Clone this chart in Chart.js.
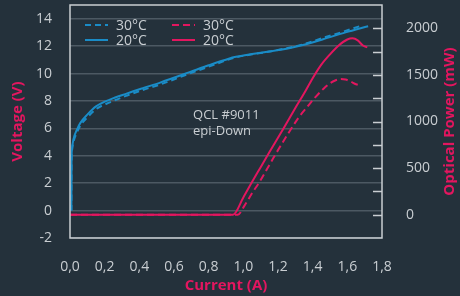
<!DOCTYPE html>
<html>
<head>
<meta charset="utf-8">
<script src="https://cdn.jsdelivr.net/npm/chart.js@4.4.0/dist/chart.umd.min.js"></script>
<style>
  html, body { margin: 0; padding: 0; background: #24313b; }
</style>
</head>
<body>
<canvas id="myChart" width="460" height="296"></canvas>
<script>
// voltage (V) vs current (A)
const currentV20 = [0.008, 0.009, 0.011, 0.02, 0.04, 0.06, 0.1, 0.15, 0.23, 0.33, 0.42, 0.52, 0.69, 0.8, 0.92, 0.95, 1.05, 1.15, 1.27, 1.35, 1.46, 1.59, 1.72];
const voltage20 = [0, 3.5, 4.4, 5.2, 5.9, 6.4, 7.0, 7.6, 8.1, 8.55, 8.93, 9.34, 10.1, 10.6, 11.1, 11.2, 11.42, 11.6, 11.86, 12.1, 12.5, 13.0, 13.45];
const currentV30 = [0.008, 0.009, 0.011, 0.02, 0.04, 0.06, 0.1, 0.15, 0.23, 0.33, 0.42, 0.52, 0.69, 0.8, 0.95, 1.05, 1.15, 1.27, 1.35, 1.46, 1.55, 1.67];
const voltage30 = [0, 3.5, 4.3, 5.0, 5.7, 6.2, 6.8, 7.4, 7.9, 8.4, 8.8, 9.2, 10.0, 10.5, 11.15, 11.4, 11.6, 11.9, 12.15, 12.6, 12.95, 13.45];

// optical power (mW) vs current (A)
const currentP20 = [0, 0.94, 1.0, 1.05, 1.1, 1.15, 1.2, 1.25, 1.3, 1.35, 1.4, 1.45, 1.5, 1.55, 1.6, 1.63, 1.66, 1.69, 1.715];
const power20 = [0, 0, 185, 350, 510, 670, 825, 985, 1145, 1300, 1465, 1610, 1720, 1815, 1880, 1892, 1870, 1815, 1795];
const currentP30 = [0, 0.968, 1.006, 1.05, 1.093, 1.14, 1.18, 1.25, 1.32, 1.37, 1.42, 1.47, 1.5, 1.53, 1.56, 1.59, 1.62, 1.65, 1.68];
const power30 = [0, 0, 95, 230, 350, 500, 630, 845, 1045, 1160, 1270, 1365, 1410, 1440, 1455, 1450, 1428, 1400, 1385];

const seriesLabels = ["30°C", "20°C", "30°C", "20°C"];
const noteLines = ["QCL #9011", "epi-Down"];

const blue = "#1a8cc7";
const pink = "#e3165f";
const textColor = "#c9ced2";
const frameColor = "#c9ced2";
const fontFamily = "'Open Sans', sans-serif";

function pts(xs, ys) {
  return xs.map((x, i) => ({ x: x, y: ys[i] }));
}

const extras = {
  id: "extras",
  afterDraw(chart) {
    const { ctx, chartArea: a, scales } = chart;
    ctx.save();

    // frame
    ctx.strokeStyle = frameColor;
    ctx.lineWidth = 1.5;
    ctx.strokeRect(a.left, a.top, a.right - a.left, a.bottom - a.top);

    // inward ticks on right axis
    const y1 = scales.y1;
    ctx.lineWidth = 1.5;
    for (let v = 0; v <= 2000; v += 250) {
      const py = Math.round(y1.getPixelForValue(v)) + 0.5;
      ctx.beginPath();
      ctx.moveTo(a.right - 9, py);
      ctx.lineTo(a.right, py);
      ctx.stroke();
    }

    // legend, 2 columns
    ctx.font = "14px " + fontFamily;
    ctx.textBaseline = "middle";
    ctx.fillStyle = textColor;
    chart.data.datasets.forEach((ds, i) => {
      const col = Math.floor(i / 2);
      const row = i % 2;
      const x0 = a.left + 15 + col * 87;
      const y0 = a.top + 20 + row * 15;
      ctx.strokeStyle = ds.borderColor;
      ctx.lineWidth = 2;
      ctx.setLineDash(ds.borderDash || []);
      ctx.beginPath();
      ctx.moveTo(x0, y0);
      ctx.lineTo(x0 + 23, y0);
      ctx.stroke();
      ctx.setLineDash([]);
      ctx.fillText(ds.label, x0 + 31, y0 + 1);
    });

    // note
    ctx.font = "13px " + fontFamily;
    const nx = scales.x.getPixelForValue(0.71);
    ctx.fillText(noteLines[0], nx, 115);
    ctx.fillText(noteLines[1], nx, 131);

    // right title, reading bottom to top
    ctx.font = "bold 15px " + fontFamily;
    ctx.fillStyle = pink;
    ctx.textAlign = "center";
    ctx.translate(450, (a.top + a.bottom) / 2);
    ctx.rotate(-Math.PI / 2);
    ctx.fillText("Optical Power (mW)", 0, 0);
    ctx.restore();
  }
};

const ctx = document.getElementById("myChart");

new Chart(ctx, {
  type: "line",
  data: {
    datasets: [
      {
        label: seriesLabels[0],
        data: pts(currentV30, voltage30),
        borderColor: blue,
        borderDash: [6, 4],
        yAxisID: "y",
      },
      {
        label: seriesLabels[1],
        data: pts(currentV20, voltage20),
        borderColor: blue,
        yAxisID: "y",
      },
      {
        label: seriesLabels[2],
        data: pts(currentP30, power30),
        borderColor: pink,
        borderDash: [7, 4],
        yAxisID: "y1",
      },
      {
        label: seriesLabels[3],
        data: pts(currentP20, power20),
        borderColor: pink,
        yAxisID: "y1",
      },
    ],
  },
  options: {
    responsive: false,
    animation: false,
    layout: { padding: { top: 5, left: 0, right: 0, bottom: 0 } },
    elements: {
      point: { radius: 0 },
      line: { borderWidth: 2, cubicInterpolationMode: "monotone", fill: false },
    },
    plugins: {
      legend: { display: false },
      tooltip: { enabled: false },
    },
    scales: {
      x: {
        type: "linear",
        min: 0,
        max: 1.8,
        grid: { display: false },
        border: { display: false },
        ticks: {
          stepSize: 0.2,
          color: textColor,
          font: { size: 14, family: fontFamily },
          padding: 13,
          maxRotation: 0,
          callback: (v) => v.toFixed(1).replace(".", ","),
        },
        title: {
          display: true,
          text: "Current (A)",
          color: pink,
          font: { size: 15, weight: "bold", family: fontFamily },
          padding: { top: 0, bottom: 1 },
        },
        afterFit: (s) => { s.height = 58; s.paddingLeft = 0; s.paddingRight = 0; },
      },
      y: {
        position: "left",
        min: -2,
        max: 15,
        grid: { color: "#4c5963", lineWidth: 1.5, drawTicks: false },
        border: { display: false },
        ticks: {
          stepSize: 2,
          includeBounds: false,
          color: textColor,
          font: { size: 14, family: fontFamily },
          padding: 18,
        },
        title: {
          display: true,
          text: "Voltage (V)",
          color: pink,
          font: { size: 15, weight: "bold", family: fontFamily },
          padding: { top: 9, bottom: 0 },
        },
        afterFit: (s) => { s.width = 70; s.paddingTop = 0; s.paddingBottom = 0; },
      },
      y1: {
        position: "right",
        min: -250,
        max: 2250,
        grid: { display: false },
        border: { display: false },
        ticks: {
          stepSize: 250,
          includeBounds: false,
          color: textColor,
          font: { size: 14, family: fontFamily },
          padding: 16,
          callback: (v) => (v >= 0 && v <= 2000 && v % 500 === 0 ? String(v) : ""),
        },
        afterFit: (s) => { s.width = 78; s.paddingTop = 0; s.paddingBottom = 0; },
      },
    },
  },
  plugins: [extras],
});
</script>
</body>
</html>
